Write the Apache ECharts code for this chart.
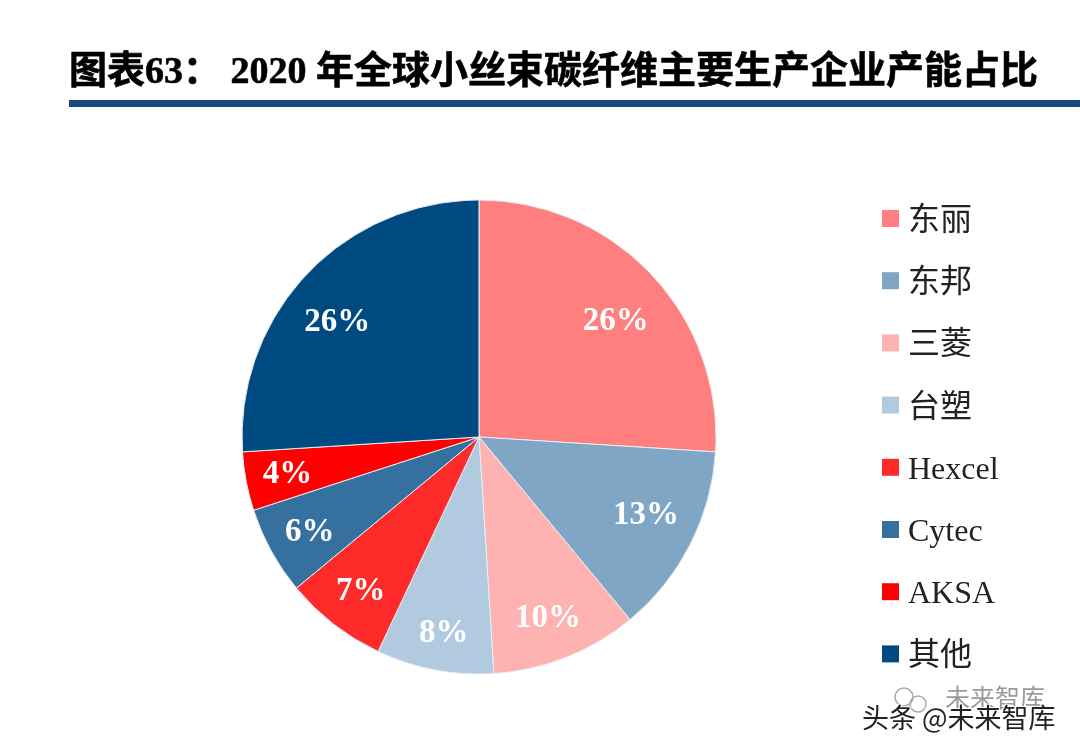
<!DOCTYPE html>
<html>
<head>
<meta charset="utf-8">
<style>
html,body{margin:0;padding:0;background:#fff}
#main{width:1080px;height:753px}
</style>
<script src="https://cdn.jsdelivr.net/npm/echarts@6/dist/echarts.min.js"></script>
</head>
<body>
<div id="main"></div>
<script>
var titleText = '图表63： 2020 年全球小丝束碳纤维主要生产企业产能占比';
var companies = ['东丽', '东邦', '三菱', '台塑', 'Hexcel', 'Cytec', 'AKSA', '其他'];
var shares = [26, 13, 10, 8, 7, 6, 4, 26];
var colors = ['#FF7F7F', '#7FA6C4', '#FFB2B2', '#B2CADF', '#FF2A2A', '#35709F', '#FF0000', '#004A82'];
// 标签微调
var labelDx = [-4, -5, -2, 1, 0, 0, -2, -1];
var labelDy = [17, -9, 2, 7, 2, 2, 1, 18];

var serif = '"Liberation Serif","Noto Sans CJK SC",serif';

// 基于准备好的dom，初始化echarts实例
var myChart = echarts.init(document.getElementById('main'));

var sliceData = [];
var labelData = [];
for (var i = 0; i < companies.length; i++) {
    sliceData.push({name: companies[i], value: shares[i]});
    labelData.push({name: companies[i], value: shares[i]});
}

myChart.setOption({
    animation: false,
    backgroundColor: '#fff',
    color: colors,
    title: {
        text: titleText,
        left: 64,
        top: 49,
        textStyle: {
            fontFamily: serif,
            fontSize: 38,
            fontWeight: 'bold',
            color: '#000',
            textBorderColor: '#000',
            textBorderWidth: 0.6
        }
    },
    legend: {
        orient: 'vertical',
        left: 877,
        top: 194.5,
        data: companies,
        icon: 'rect',
        itemWidth: 17,
        itemHeight: 17,
        itemGap: 24.2,
        selectedMode: false,
        itemStyle: {borderWidth: 0},
        formatter: '{t|{name}}',
        textStyle: {
            rich: {
                t: {
                    fontFamily: serif,
                    fontSize: 32,
                    lineHeight: 34,
                    color: '#222',
                    padding: [6, 0, 0, 4]
                }
            }
        }
    },
    series: [
        {
            name: '产能占比',
            type: 'pie',
            radius: 237,
            center: [479, 437],
            startAngle: 90,
            clockwise: true,
            data: sliceData,
            label: {show: false},
            labelLine: {show: false},
            itemStyle: {borderColor: '#E8EEF4', borderWidth: 1},
            emphasis: {disabled: true}
        },
        {
            // 只用来放标签，标签靠外
            name: '标签',
            type: 'pie',
            radius: [143, 237],
            center: [479, 437],
            startAngle: 90,
            clockwise: true,
            silent: true,
            data: labelData,
            itemStyle: {color: 'transparent'},
            label: {
                show: true,
                position: 'inside',
                formatter: '{c}%',
                fontFamily: serif,
                fontSize: 33,
                fontWeight: 'bold',
                color: '#fff'
            },
            labelLayout: function (params) {
                return {dx: labelDx[params.dataIndex], dy: labelDy[params.dataIndex]};
            },
            labelLine: {show: false},
            emphasis: {disabled: true}
        }
    ],
    graphic: [
        {
            type: 'rect',
            shape: {x: 69, y: 100, width: 1011, height: 7},
            style: {fill: '#17497F'}
        },
        {
            type: 'circle',
            shape: {cx: 904, cy: 697, r: 9},
            style: {fill: 'none', stroke: '#aaa', lineWidth: 1.5}
        },
        {
            type: 'circle',
            shape: {cx: 918, cy: 704, r: 8},
            style: {fill: 'none', stroke: '#aaa', lineWidth: 1.5}
        },
        {
            type: 'text',
            x: 945,
            y: 685,
            style: {
                text: '未来智库',
                fontFamily: '"Noto Sans CJK SC",sans-serif',
                fontSize: 25,
                fill: '#9a9a9a'
            }
        },
        {
            type: 'text',
            x: 862,
            y: 704,
            style: {
                text: '头条 @未来智库',
                fontFamily: '"Noto Sans CJK SC",sans-serif',
                fontSize: 27,
                fill: '#222',
                stroke: '#fff',
                lineWidth: 2
            }
        }
    ]
});
</script>
</body>
</html>
